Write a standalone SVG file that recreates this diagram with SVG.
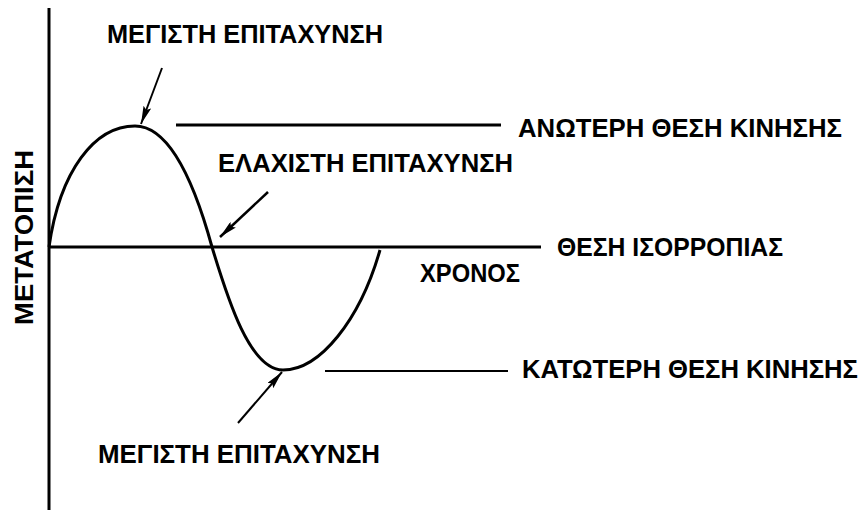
<svg xmlns="http://www.w3.org/2000/svg" width="865" height="510" viewBox="0 0 865 510">
<style>
.t{font-family:"Liberation Sans",Arial,sans-serif;font-weight:bold;font-size:25px;fill:#000}
.ln{stroke:#000;fill:none;stroke-linecap:butt}
</style>
<defs>
<marker id="ah" viewBox="0 0 18 8" refX="18" refY="4" markerWidth="18" markerHeight="8" markerUnits="userSpaceOnUse" orient="auto">
<path d="M0,0 L18,4 L0,8 L3,4 Z" fill="#000"/>
</marker>
</defs>
<rect width="865" height="510" fill="#fff"/>
<g id="axes">
<line class="ln" x1="49" y1="8" x2="49" y2="510" stroke-width="3"/>
<line class="ln" x1="48" y1="247" x2="541" y2="247" stroke-width="3"/>
</g>
<g id="curve">
<path class="ln" stroke-width="3" d="M49,247 C60,170 95,126 135,126 C170,126 195,185 212,247 C228,300 250,370 283,370 C320,370 360,320 380,250"/>
</g>
<g id="connectors">
<line class="ln" x1="176" y1="125" x2="501" y2="125" stroke-width="3"/>
<line class="ln" x1="325" y1="371" x2="508" y2="371" stroke-width="2"/>
<line class="ln" x1="162" y1="68" x2="141" y2="124" stroke-width="2" marker-end="url(#ah)"/>
<line class="ln" x1="268" y1="192" x2="220" y2="237" stroke-width="2.5" marker-end="url(#ah)"/>
<line class="ln" x1="238" y1="423" x2="282" y2="372" stroke-width="2" marker-end="url(#ah)"/>
</g>
<g id="labels">
<text class="t" x="107" y="43" textLength="276" lengthAdjust="spacingAndGlyphs">ΜΕΓΙΣΤΗ ΕΠΙΤΑΧΥΝΣΗ</text>
<text class="t" x="518" y="137" textLength="324" lengthAdjust="spacingAndGlyphs">ΑΝΩΤΕΡΗ ΘΕΣΗ ΚΙΝΗΣΗΣ</text>
<text class="t" x="218" y="172" textLength="295" lengthAdjust="spacingAndGlyphs">ΕΛΑΧΙΣΤΗ ΕΠΙΤΑΧΥΝΣΗ</text>
<text class="t" x="557" y="256" textLength="226" lengthAdjust="spacingAndGlyphs">ΘΕΣΗ ΙΣΟΡΡΟΠΙΑΣ</text>
<text class="t" x="420" y="282" textLength="100" lengthAdjust="spacingAndGlyphs">ΧΡΟΝΟΣ</text>
<text class="t" x="522" y="378" textLength="336" lengthAdjust="spacingAndGlyphs">ΚΑΤΩΤΕΡΗ ΘΕΣΗ ΚΙΝΗΣΗΣ</text>
<text class="t" x="98" y="463" textLength="282" lengthAdjust="spacingAndGlyphs">ΜΕΓΙΣΤΗ ΕΠΙΤΑΧΥΝΣΗ</text>
<text class="t" transform="translate(33,325) rotate(-90)" textLength="175" lengthAdjust="spacingAndGlyphs">ΜΕΤΑΤΟΠΙΣΗ</text>
</g>
</svg>
